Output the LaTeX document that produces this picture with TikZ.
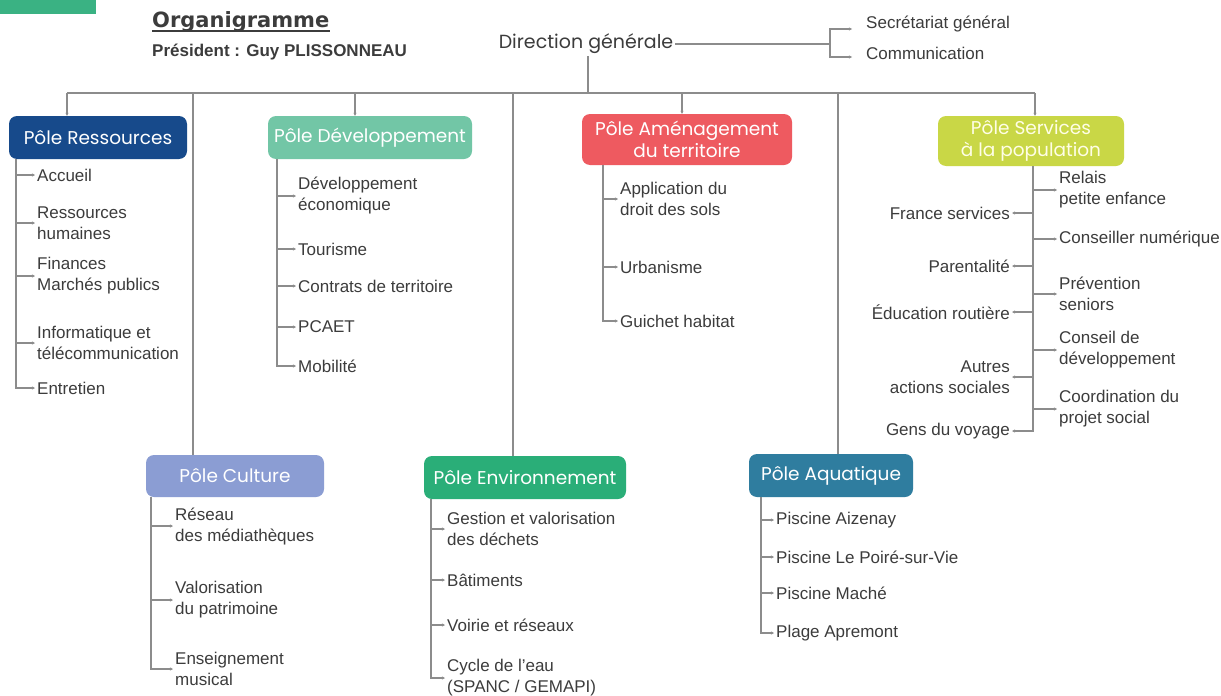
\documentclass[tikz,border=0pt]{standalone}
\usepackage{fontspec}
\setmainfont{Liberation Sans}
\newfontfamily\boxfont{Poppins}
\newfontfamily\titlefont{DejaVu Sans}
\usetikzlibrary{arrows.meta}
\definecolor{ressblue}{HTML}{174A8B}
\definecolor{devgreen}{HTML}{72C6A6}
\definecolor{amenred}{HTML}{EE5A60}
\definecolor{servyellow}{HTML}{C9D746}
\definecolor{cultblue}{HTML}{8B9DD3}
\definecolor{envgreen}{HTML}{2AAE78}
\definecolor{aquablue}{HTML}{2F7D9F}
\definecolor{tabgreen}{HTML}{3AB283}
\definecolor{linec}{HTML}{8C8C8C}
\definecolor{txt}{HTML}{3C3C3C}
\begin{document}
\begin{tikzpicture}[x=1pt,y=-1pt,
  lbl/.style={font=\fontsize{17}{21}\selectfont, text=txt, inner sep=2pt},
  lblL/.style={lbl, anchor=west, align=left},
  lblR/.style={lbl, anchor=east, align=right},
  pole/.style={rounded corners=8pt, text=white, font=\boxfont\fontsize{18.5}{22}\selectfont, align=center, inner sep=0pt},
  conn/.style={draw=linec, line width=1.3pt},
  stub/.style={conn, -{Stealth[length=3pt,width=3pt]}}]
\useasboundingbox (0,0) rectangle (1221,696);
\fill[white] (0,0) rectangle (1221,696);
% top tab
\fill[tabgreen] (0,0) rectangle (96,14);
% title
\node[anchor=west, inner sep=0pt, text=txt, font=\titlefont\bfseries\fontsize{21}{24}\selectfont] (title) at (152,22) {Organigramme};
\draw[txt, line width=2pt] ([yshift=-3.5pt]title.base west) -- ([yshift=-3.5pt]title.base east);
\node[anchor=west, inner sep=0pt, text=txt, font=\bfseries\fontsize{17}{20}\selectfont] (pres) at (152,52) {Président : Guy PLISSONNEAU};
% direction
\node[inner sep=2pt, text=txt, font=\boxfont\fontsize{19}{22}\selectfont] (dg) at (586,44) {Direction générale};
\coordinate (br) at (830,44);
\draw[conn] (dg.east) -- (br);
\node[lblL] (sec) at (864,24) {Secrétariat général};
\node[lblL] (com) at (864,53) {Communication};
\draw[stub] (br) |- ([xshift=-12pt,yshift=-5pt]sec.west);
\draw[stub] (br) |- ([xshift=-12pt,yshift=-4pt]com.west);
% bus
\coordinate (bus) at (588,93);
\draw[conn] (bus |- dg.south) -- (bus);
\coordinate (busL) at (67,93);
\coordinate (busR) at (1035,93);
\draw[conn] (busL) -- (busR);
% poles
\node[pole, fill=ressblue, minimum width=178pt, minimum height=43pt] (ress) at (98,137.5) {Pôle Ressources};
\node[pole, fill=devgreen, minimum width=204pt, minimum height=43pt] (dev) at (370,137.5) {Pôle Développement};
\node[pole, fill=amenred, minimum width=210pt, minimum height=51pt] (amen) at (687,139.5) {Pôle Aménagement\\du territoire};
\node[pole, fill=servyellow, text=white!90!yellow, minimum width=186pt, minimum height=50pt] (serv) at (1031,141) {Pôle Services\\à la population};
\node[pole, fill=cultblue, minimum width=178pt, minimum height=42pt] (cult) at (235,476) {Pôle Culture};
\node[pole, fill=envgreen, minimum width=202pt, minimum height=43pt] (env) at (525,477.5) {Pôle Environnement};
\node[pole, fill=aquablue, minimum width=164pt, minimum height=43pt] (aqua) at (831,475.5) {Pôle Aquatique};
% drops
\coordinate (dD) at (355,93);
\coordinate (dA) at (682,93);
\coordinate (dC) at (193,93);
\coordinate (dE) at (513,93);
\coordinate (dQ) at (838,93);
\draw[stub] (busL) -- (busL |- ress.north);
\draw[stub] (dD) -- (dD |- dev.north);
\draw[stub] (dA) -- (dA |- amen.north);
\draw[stub] (busR) -- (busR |- serv.north);
\draw[conn] (dC) -- (dC |- cult.north);
\draw[conn] (dE) -- (dE |- env.north);
\draw[conn] (dQ) -- (dQ |- aqua.north);
% Ressources items
\node[lblL] (acc) at (35,175) {Accueil};
\node[lblL] (rh) at (35,223) {Ressources\\humaines};
\node[lblL] (fin) at (35,276) {Finances\\Marchés publics};
\node[lblL] (info) at (35,343) {Informatique et\\télécommunication};
\node[lblL] (ent) at (35,388) {Entretien};
\coordinate (rT) at (16,159);
\draw[stub] (rT) |- (ent.west);
\foreach \n in {acc,rh,fin,info} \draw[stub] (rT |- \n.west) -- (\n.west);
% Developpement items
\node[lblL] (dev1) at (296,196) {Développement\\économique};
\node[lblL] (tour) at (296,249) {Tourisme};
\node[lblL] (contr) at (296,286) {Contrats de territoire};
\node[lblL] (pcaet) at (296,327) {PCAET};
\node[lblL] (mob) at (296,366) {Mobilité};
\coordinate (dT) at (277,159);
\draw[stub] (dT) |- (mob.west);
\foreach \n in {dev1,tour,contr,pcaet} \draw[stub] (dT |- \n.west) -- (\n.west);
% Amenagement items
\node[lblL] (app) at (618,199) {Application du\\droit des sols};
\node[lblL] (urb) at (618,267) {Urbanisme};
\node[lblL] (gui) at (618,321) {Guichet habitat};
\coordinate (aT) at (603,165);
\draw[stub] (aT) |- (gui.west);
\foreach \n in {app,urb} \draw[stub] (aT |- \n.west) -- (\n.west);
% Services items
\node[lblR] (fs) at (1012,213) {France services};
\node[lblR] (par) at (1012,266) {Parentalité};
\node[lblR] (edu) at (1012,312) {Éducation routière};
\node[lblR] (aut) at (1012,377) {Autres\\actions sociales};
\node[lblR] (gens) at (1012,431) {Gens du voyage};
\node[lblL] (rel) at (1057,190) {Relais\\petite enfance};
\node[lblL] (cons) at (1057,239) {Conseiller numérique};
\node[lblL] (prev) at (1057,294) {Prévention\\seniors};
\node[lblL] (cdev) at (1057,350) {Conseil de\\développement};
\node[lblL] (coord) at (1057,409) {Coordination du\\projet social};
\coordinate (sT) at (1033,166);
\draw[stub] (sT) |- (gens.east);
\foreach \n in {fs,par,edu,aut} \draw[stub] (sT |- \n.east) -- (\n.east);
\foreach \n in {rel,cons,prev,cdev,coord} \draw[stub] (sT |- \n.west) -- (\n.west);
% Culture items
\node[lblL] (res) at (173,526) {Réseau\\des médiathèques};
\node[lblL] (val) at (173,600) {Valorisation\\du patrimoine};
\node[lblL] (ens) at (173,669) {Enseignement\\musical};
\coordinate (cT) at (151,497);
\draw[stub] (cT) |- (ens.west);
\foreach \n in {res,val} \draw[stub] (cT |- \n.west) -- (\n.west);
% Environnement items
\node[lblL] (gest) at (445,529) {Gestion et valorisation\\des déchets};
\node[lblL] (bat) at (445,580) {Bâtiments};
\node[lblL] (voi) at (445,625) {Voirie et réseaux};
\node[lblL] (cyc) at (445,678) {Cycle de l’eau\\(SPANC / GEMAPI)};
\coordinate (eT) at (431,499);
\draw[stub] (eT) |- (cyc.west);
\foreach \n in {gest,bat,voi} \draw[stub] (eT |- \n.west) -- (\n.west);
% Aquatique items
\node[lblL] (pa) at (774,520) {Piscine Aizenay};
\node[lblL] (pl) at (774,557) {Piscine Le Poiré-sur-Vie};
\node[lblL] (pm) at (774,593) {Piscine Maché};
\node[lblL] (pap) at (774,633) {Plage Apremont};
\coordinate (qT) at (761,497);
\draw[stub] (qT) |- (pap.west);
\foreach \n in {pa,pl,pm} \draw[stub] (qT |- \n.west) -- (\n.west);
\end{tikzpicture}
\end{document}
